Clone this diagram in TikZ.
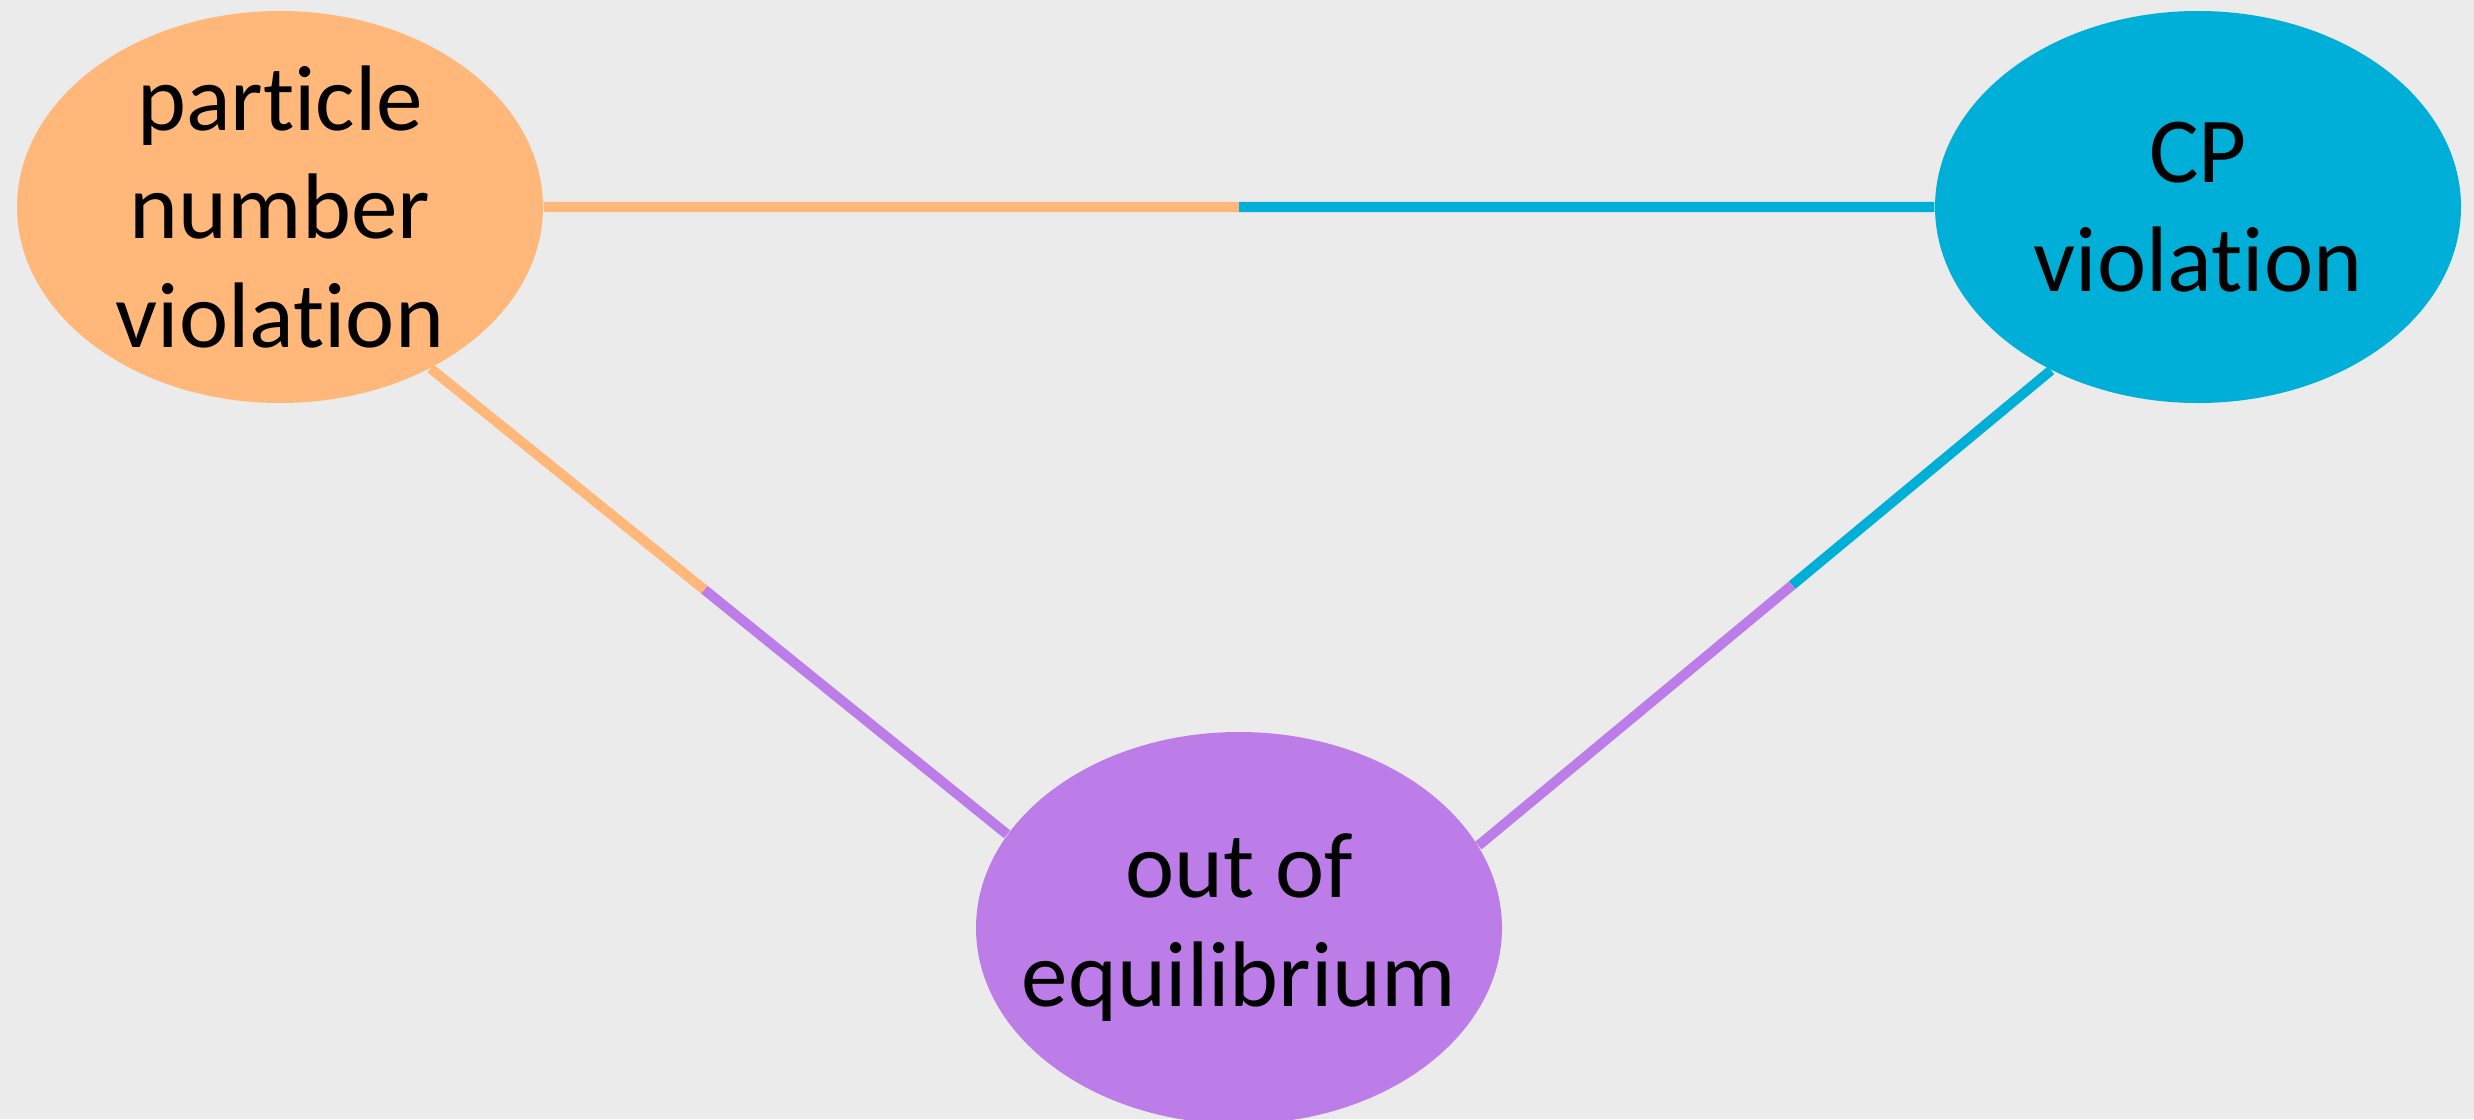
\documentclass[tikz,border=0pt]{standalone}
\usepackage{fontspec}
\setmainfont{Carlito}[Ligatures={NoCommon}]
\usetikzlibrary{shapes.geometric,calc}

\definecolor{peach}{RGB}{255,184,121}
\definecolor{cpblue}{RGB}{0,175,215}
\definecolor{lilac}{RGB}{189,125,232}
\definecolor{paper}{RGB}{235,235,235}

\begin{document}
\begin{tikzpicture}[
    blob/.style={ellipse,minimum width=5.26cm,minimum height=3.92cm,inner sep=0pt},
    words/.style={align=center,inner sep=0pt,font=\fontsize{26.5}{31}\selectfont},
    link/.style={line width=2.85pt}]
  \fill[paper] (0,0) rectangle (24.74,11.19);
  \useasboundingbox (0,0) rectangle (24.74,11.19);

  \node[blob,fill=peach] (pnv) at (2.80,9.12) {};
  \node[blob,fill=cpblue] (cpv) at (21.98,9.12) {};
  \node[blob,fill=lilac] (ooe) at (12.39,1.91) {};
  \node[words] (pnvtext) at (pnv) {particle\\number\\violation};
  \node[words] (cpvtext) at (cpv) {CP\\violation};
  \node[words] (ooetext) at (ooe) {out of\\equilibrium};

  % top bar, half and half
  \coordinate (mtop) at ($(pnv.east)!0.5!(cpv.west)$);
  \draw[link,peach] (pnv.east) -- (mtop);
  \draw[link,cpblue] (mtop) -- (cpv.west);

  % left leg
  \coordinate (mleft) at ($(pnv.-47)!0.475!(ooe.158.7)$);
  \draw[link,peach] (pnv.-47) -- (mleft);
  \draw[link,lilac] (mleft) -- (ooe.158.7);

  % right leg
  \coordinate (mright) at ($(cpv.-132.4)!0.452!(ooe.19.7)$);
  \draw[link,cpblue] (cpv.-132.4) -- (mright);
  \draw[link,lilac] (mright) -- (ooe.19.7);
\end{tikzpicture}
\end{document}
